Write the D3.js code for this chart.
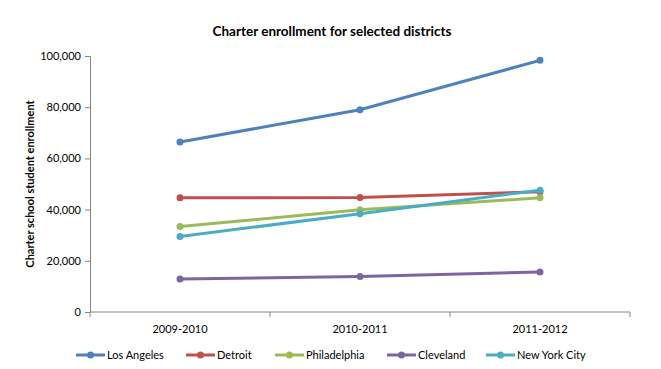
<!DOCTYPE html>
<html>
<head>
<meta charset="utf-8">
<script src="https://cdnjs.cloudflare.com/ajax/libs/d3/7.8.5/d3.min.js"></script>
<style>
body { margin: 0; background: #fff; }
text { font-family: Lato, "Open Sans", sans-serif; fill: #000; }
</style>
</head>
<body>
<div id="chart"></div>
<script>
var years = ["2009-2010", "2010-2011", "2011-2012"];
var districts = ["Los Angeles", "Detroit", "Philadelphia", "Cleveland", "New York City"];
var losAngeles = [66400, 79000, 98300];
var detroit = [44600, 44700, 47000];
var philadelphia = [33400, 39900, 44600];
var cleveland = [12900, 13900, 15600];
var newYorkCity = [29500, 38400, 47600];
var yTicks = [0, 20000, 40000, 60000, 80000, 100000];
var colors = ["#4F81BD", "#C0504D", "#9BBB59", "#8064A2", "#4BACC6"];

var series = [losAngeles, detroit, philadelphia, cleveland, newYorkCity];

var width = 661, height = 369;
var margins = {left: 90, right: 31, top: 56, bottom: 57};

var svg = d3.select("#chart")
	.append("svg")
	.attr("width", width)
	.attr("height", height);

var x = d3.scalePoint()
	.domain(years)
	.range([margins.left, width - margins.right])
	.padding(0.5);
var xBand = d3.scaleBand()
	.domain(years)
	.range([margins.left, width - margins.right]);
var y = d3.scaleLinear()
	.domain([0, 100000])
	.range([height - margins.bottom, margins.top]);

// title
svg.append("text")
	.attr("x", 332)
	.attr("y", 36)
	.attr("text-anchor", "middle")
	.style("font-size", "13.5px")
	.style("font-weight", "bold")
	.text("Charter enrollment for selected districts");

// y axis
var yAxis = svg.append("g")
	.attr("transform", "translate(" + margins.left + ",0)")
	.call(d3.axisLeft(y).tickValues(yTicks).tickSize(5).tickPadding(4).tickFormat(d3.format(",")));
yAxis.selectAll("path, line").attr("stroke", "#868686");
yAxis.selectAll("text").style("font-size", "11px").style("font-family", "Lato, sans-serif");

// x axis
var xAxis = svg.append("g")
	.attr("transform", "translate(0," + (height - margins.bottom) + ")")
	.call(d3.axisBottom(xBand).tickSize(0).tickPadding(13));
xAxis.select(".domain").attr("d", "M" + margins.left + ",0H" + (width - margins.right)).attr("stroke", "#868686");
xAxis.selectAll("text").style("font-size", "11px").style("font-family", "Lato, sans-serif");
xAxis.selectAll(".xtick")
	.data(d3.range(years.length + 1))
	.enter()
	.append("line")
	.attr("x1", function(i) { return margins.left + i * xBand.bandwidth(); })
	.attr("x2", function(i) { return margins.left + i * xBand.bandwidth(); })
	.attr("y1", 0)
	.attr("y2", 5)
	.attr("stroke", "#868686");

// y axis title
svg.append("text")
	.attr("transform", "translate(34," + ((margins.top + height - margins.bottom) / 2) + ") rotate(-90)")
	.attr("text-anchor", "middle")
	.style("font-size", "11px")
	.style("font-weight", "bold")
	.text("Charter school student enrollment");

var line = d3.line()
	.x(function(d, i) { return x(years[i]); })
	.y(function(d) { return y(d); });

series.forEach(function(s, k) {
	svg.append("path")
		.datum(s)
		.attr("d", line)
		.attr("fill", "none")
		.attr("stroke", colors[k])
		.attr("stroke-width", 3);
	svg.selectAll(".dot" + k)
		.data(s)
		.enter()
		.append("circle")
		.attr("cx", function(d, i) { return x(years[i]); })
		.attr("cy", function(d) { return y(d); })
		.attr("r", 3.5)
		.attr("fill", colors[k]);
});

// legend
var legendX = [76, 186, 275, 387, 486];
var legend = svg.selectAll(".legend")
	.data(districts)
	.enter()
	.append("g")
	.attr("transform", function(d, i) { return "translate(" + legendX[i] + ",355)"; });
legend.append("line")
	.attr("x1", 0)
	.attr("x2", 29)
	.attr("stroke", function(d, i) { return colors[i]; })
	.attr("stroke-width", 3);
legend.append("circle")
	.attr("cx", 14.5)
	.attr("r", 3.5)
	.attr("fill", function(d, i) { return colors[i]; });
legend.append("text")
	.attr("x", 31)
	.attr("y", 4)
	.style("font-size", "11px")
	.text(function(d) { return d; });
</script>
</body>
</html>
